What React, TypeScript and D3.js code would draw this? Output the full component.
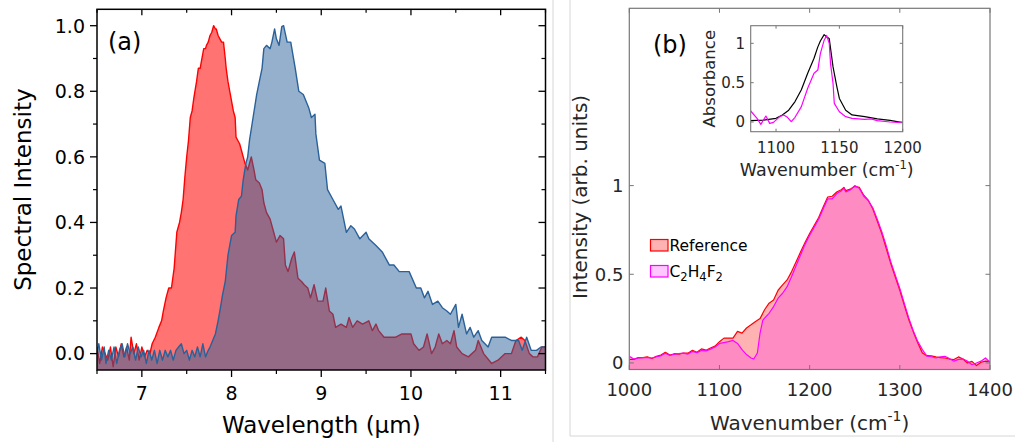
import React from 'react';
import * as d3 from 'd3';

type Pt = [number, number];

// ---------- Panel (a): spectra vs wavelength (µm) ----------
const redSpectrum: Pt[] = [
  [6.50,0.02],[6.53,-0.03],[6.56,0.02],[6.59,0.00],[6.62,-0.02],[6.65,0.02],[6.68,-0.04],[6.71,0.02],[6.74,-0.01],[6.77,0.03],
  [6.80,-0.01],[6.83,0.02],[6.86,-0.02],[6.88,0.05],[6.91,0.00],[6.94,0.03],[6.97,-0.02],[7.00,0.02],[7.03,-0.01],[7.06,0.01],
  [7.09,0.00],[7.115,0.03],[7.15,0.05],[7.19,0.08],[7.22,0.10],[7.24,0.13],[7.27,0.17],[7.30,0.20],[7.33,0.20],[7.36,0.26],
  [7.39,0.37],[7.42,0.40],[7.44,0.43],[7.46,0.47],[7.48,0.54],[7.50,0.60],[7.52,0.65],[7.54,0.72],[7.56,0.74],[7.58,0.78],
  [7.61,0.83],[7.63,0.87],[7.65,0.87],[7.67,0.90],[7.69,0.93],[7.71,0.93],[7.72,0.94],[7.74,0.95],[7.76,0.97],[7.78,0.98],
  [7.80,1.00],[7.82,0.99],[7.83,0.99],[7.85,0.97],[7.87,0.96],[7.89,0.95],[7.91,0.95],[7.93,0.90],[7.94,0.87],[7.96,0.83],
  [7.98,0.80],[8.00,0.77],[8.02,0.74],[8.04,0.72],[8.05,0.66],[8.07,0.65],[8.09,0.64],[8.11,0.62],[8.13,0.60],[8.15,0.58],
  [8.18,0.56],[8.20,0.58],[8.22,0.60],[8.25,0.56],[8.27,0.53],[8.31,0.52],[8.34,0.50],[8.36,0.46],[8.39,0.43],[8.43,0.41],
  [8.47,0.37],[8.50,0.34],[8.54,0.36],[8.58,0.35],[8.60,0.27],[8.63,0.25],[8.67,0.29],[8.70,0.31],[8.74,0.23],[8.78,0.22],
  [8.81,0.21],[8.85,0.20],[8.88,0.17],[8.92,0.21],[8.96,0.16],[9.02,0.16],[9.05,0.20],[9.09,0.13],[9.13,0.12],[9.16,0.08],
  [9.22,0.09],[9.28,0.08],[9.31,0.11],[9.35,0.08],[9.40,0.10],[9.46,0.09],[9.53,0.10],[9.57,0.07],[9.61,0.09],[9.64,0.07],
  [9.70,0.05],[9.76,0.05],[9.83,0.05],[9.90,0.06],[10.00,0.06],[10.03,0.03],[10.09,0.01],[10.14,0.02],[10.18,0.06],[10.23,0.00],
  [10.27,0.02],[10.31,0.06],[10.35,0.03],[10.40,0.04],[10.44,0.03],[10.48,0.07],[10.51,0.02],[10.57,0.00],[10.64,-0.01],[10.72,0.01],
  [10.75,0.04],[10.81,0.00],[10.90,-0.03],[10.97,-0.02],[11.05,0.00],[11.12,0.00],[11.17,0.04],[11.23,0.05],[11.27,0.04],[11.32,0.00],
  [11.36,-0.01],[11.41,-0.01],[11.46,0.02],[11.50,0.02]
];

const blueSpectrum: Pt[] = [
  [6.50,0.00],[6.52,0.03],[6.55,-0.02],[6.58,0.02],[6.60,-0.03],[6.63,0.01],[6.66,-0.02],[6.69,0.02],[6.72,-0.03],[6.75,0.01],
  [6.78,0.03],[6.81,-0.01],[6.84,0.03],[6.87,0.00],[6.90,0.02],[6.93,-0.02],[6.96,0.02],[6.99,-0.01],[7.02,0.01],[7.05,-0.03],
  [7.08,0.01],[7.11,-0.02],[7.14,0.01],[7.17,-0.03],[7.20,0.01],[7.23,-0.02],[7.26,0.01],[7.29,-0.01],[7.32,0.01],[7.35,-0.02],
  [7.38,0.01],[7.41,0.02],[7.44,0.03],[7.47,0.00],[7.50,0.01],[7.53,-0.02],[7.56,0.01],[7.59,-0.01],[7.62,0.02],[7.65,-0.01],
  [7.68,0.03],[7.71,-0.01],[7.74,0.01],[7.76,0.02],[7.79,0.04],[7.82,0.06],[7.85,0.10],[7.87,0.13],[7.90,0.18],[7.93,0.22],
  [7.96,0.30],[8.00,0.36],[8.04,0.37],[8.05,0.42],[8.08,0.47],[8.11,0.48],[8.13,0.53],[8.16,0.58],[8.18,0.60],[8.20,0.65],
  [8.24,0.72],[8.28,0.79],[8.31,0.83],[8.34,0.87],[8.36,0.93],[8.39,0.94],[8.43,0.93],[8.45,0.95],[8.48,0.99],[8.50,0.96],
  [8.53,0.94],[8.56,0.997],[8.58,1.00],[8.62,0.95],[8.66,0.95],[8.71,0.87],[8.75,0.80],[8.80,0.79],[8.86,0.75],[8.89,0.72],
  [8.93,0.73],[8.94,0.67],[8.98,0.59],[9.04,0.58],[9.07,0.50],[9.13,0.47],[9.19,0.44],[9.22,0.45],[9.28,0.37],[9.33,0.39],
  [9.37,0.38],[9.43,0.35],[9.50,0.37],[9.53,0.35],[9.61,0.33],[9.68,0.31],[9.76,0.27],[9.81,0.27],[9.87,0.25],[9.98,0.25],
  [10.06,0.20],[10.11,0.20],[10.15,0.17],[10.19,0.19],[10.24,0.15],[10.30,0.16],[10.35,0.14],[10.40,0.13],[10.44,0.12],[10.50,0.15],
  [10.53,0.08],[10.57,0.12],[10.62,0.06],[10.66,0.08],[10.70,0.05],[10.75,0.07],[10.79,0.04],[10.86,0.02],[10.90,0.05],[11.05,0.05],
  [11.12,0.04],[11.20,0.04],[11.24,0.01],[11.29,0.05],[11.34,0.01],[11.40,0.01],[11.45,0.02],[11.50,0.02]
];

const aXTicks = [7, 8, 9, 10, 11];
const aXMinor = [7.5, 8.5, 9.5, 10.5, 11.5, 6.5];
const aYTicks = [0, 0.2, 0.4, 0.6, 0.8, 1.0];
const aYMinor = [0.1, 0.3, 0.5, 0.7, 0.9];

// ---------- Panel (b): transmitted spectra vs wavenumber ----------
const referenceSpectrum: Pt[] = [
  [1000,0.02],[1005,0.02],[1010,0.03],[1015,0.03],[1020,0.035],[1025,0.025],[1030,0.037],[1035,0.045],[1040,0.06],[1045,0.045],
  [1050,0.052],[1055,0.05],[1060,0.056],[1065,0.055],[1070,0.071],[1075,0.06],[1080,0.079],[1085,0.072],[1090,0.084],[1095,0.095],
  [1100,0.12],[1105,0.14],[1110,0.14],[1115,0.14],[1120,0.178],[1125,0.168],[1130,0.197],[1135,0.215],[1140,0.234],[1145,0.25],
  [1150,0.3],[1155,0.337],[1160,0.355],[1165,0.41],[1170,0.44],[1175,0.468],[1180,0.515],[1185,0.57],[1190,0.627],[1195,0.68],
  [1200,0.73],[1205,0.775],[1210,0.82],[1215,0.88],[1220,0.936],[1225,0.94],[1230,0.964],[1235,0.977],[1238,0.99],[1240,0.972],
  [1245,0.98],[1250,0.996],[1255,0.99],[1260,0.946],[1265,0.918],[1270,0.87],[1275,0.8],[1280,0.73],[1285,0.645],[1290,0.56],
  [1295,0.485],[1300,0.41],[1305,0.325],[1310,0.243],[1315,0.175],[1320,0.112],[1325,0.056],[1330,0.041],[1335,0.04],[1340,0.034],
  [1345,0.03],[1350,0.028],[1355,0.022],[1360,0.019],[1365,0.034],[1370,0.022],[1375,0.0],[1380,0.009],[1385,-0.015],[1390,0.004],
  [1395,0.01],[1400,0.009]
];

const c2h4f2Spectrum: Pt[] = [
  [1000,0.037],[1005,0.022],[1010,0.028],[1015,0.03],[1020,0.03],[1025,0.028],[1030,0.035],[1035,0.04],[1040,0.055],[1045,0.042],
  [1050,0.05],[1055,0.052],[1060,0.055],[1065,0.05],[1070,0.065],[1075,0.058],[1080,0.07],[1085,0.068],[1090,0.078],[1095,0.09],
  [1100,0.11],[1105,0.115],[1110,0.12],[1115,0.127],[1120,0.11],[1125,0.075],[1130,0.047],[1135,0.028],[1138,0.022],[1142,0.056],
  [1145,0.168],[1148,0.24],[1150,0.253],[1155,0.28],[1160,0.318],[1165,0.365],[1170,0.393],[1175,0.43],[1180,0.487],[1185,0.55],
  [1190,0.61],[1195,0.67],[1200,0.72],[1205,0.765],[1210,0.81],[1215,0.87],[1220,0.925],[1225,0.925],[1230,0.955],[1235,0.97],
  [1238,0.985],[1240,0.965],[1245,0.975],[1250,1.0],[1255,0.985],[1260,0.94],[1265,0.915],[1270,0.875],[1275,0.81],[1280,0.74],
  [1285,0.66],[1290,0.57],[1295,0.495],[1300,0.42],[1305,0.335],[1310,0.253],[1315,0.18],[1320,0.12],[1325,0.075],[1330,0.038],
  [1335,0.035],[1340,0.028],[1345,0.035],[1350,0.037],[1355,0.025],[1360,0.01],[1365,0.02],[1370,0.022],[1375,0.01],[1380,-0.01],
  [1385,0.0],[1390,0.01],[1395,0.028],[1400,0.004]
];

const bXTicks = [1000, 1100, 1200, 1300, 1400];
const bYTicks = [0, 0.5, 1];

// ---------- Inset: absorbance ----------
const absorbanceBlack: Pt[] = [
  [1080,0.017],[1090,0.025],[1100,0.047],[1105,0.09],[1110,0.15],[1115,0.26],[1120,0.41],[1125,0.62],[1130,0.81],[1133,0.955],
  [1135,1.03],[1138,1.11],[1140,1.08],[1142,1.06],[1145,0.7],[1148,0.45],[1150,0.3],[1155,0.15],[1160,0.09],[1170,0.068],
  [1180,0.04],[1190,0.02],[1200,-0.008]
];
const absorbanceMagenta: Pt[] = [
  [1080,0.14],[1085,0.047],[1088,-0.03],[1092,0.076],[1095,-0.017],[1098,-0.005],[1103,0.068],[1106,0.09],[1109,0.06],[1112,0.004],
  [1115,0.06],[1120,0.195],[1125,0.43],[1130,0.62],[1133,0.66],[1135,0.87],[1138,1.04],[1140,1.1],[1142,1.0],[1143,0.746],
  [1145,0.49],[1146,0.237],[1150,0.13],[1155,0.068],[1160,0.047],[1170,0.034],[1175,0.04],[1180,0.017],[1190,0.0],[1200,-0.008]
];
const insetXTicks = [1100, 1150, 1200];
const insetYTicks = [0, 0.5, 1];

const legendLabels = ['Reference', 'C2H4F2'];

const FONT = "'DejaVu Sans', Verdana, sans-serif";

export default function App() {
  // Panel (a) scales
  const ax = d3.scaleLinear().domain([6.5, 11.5]).range([97, 545.5]);
  const ay = d3.scaleLinear().domain([-0.05, 1.05]).range([370, 9.3]);
  const aLine = d3.line<Pt>().x(d => ax(d[0])).y(d => ay(d[1]));
  const aArea = d3.area<Pt>().x(d => ax(d[0])).y0(ay(-0.05)).y1(d => ay(d[1]));
  const [aL, aR] = ax.range();
  const [aB, aT] = ay.range();

  // Panel (b) scales
  const bx = d3.scaleLinear().domain([1000, 1400]).range([629.3, 990]);
  const by = d3.scaleLinear().domain([-0.037, 2]).range([369.5, 8.3]);
  const bLine = d3.line<Pt>().x(d => bx(d[0])).y(d => by(d[1]));
  const bArea = d3.area<Pt>().x(d => bx(d[0])).y0(by(-0.037)).y1(d => by(d[1]));
  const [bL, bR] = bx.range();
  const [bB, bT] = by.range();

  // Inset scales
  const ix = d3.scaleLinear().domain([1080, 1200]).range([750.7, 902.7]);
  const iy = d3.scaleLinear().domain([-0.123, 1.224]).range([131.7, 25.7]);
  const iLine = d3.line<Pt>().x(d => ix(d[0])).y(d => iy(d[1]));
  const [iL, iR] = ix.range();
  const [iB, iT] = iy.range();

  const fmt1 = d3.format('.1f');
  const axisGray = '#777';
  const textGray = '#262626';

  return (
    <svg width={1015} height={442} style={{ position: 'absolute', left: 0, top: 0, display: 'block', background: '#fff' }}
      fontFamily={FONT}>
      <defs>
        <clipPath id="clipA"><rect x={aL} y={aT} width={aR - aL} height={aB - aT} /></clipPath>
        <clipPath id="clipB"><rect x={bL} y={bT} width={bR - bL} height={bB - bT} /></clipPath>
        <clipPath id="clipI"><rect x={iL} y={iT} width={iR - iL} height={iB - iT} /></clipPath>
      </defs>
      <rect x={0} y={0} width={1015} height={442} fill="#fff" />

      {/* light separators */}
      <line x1={553} y1={0} x2={553} y2={442} stroke="#d6d6d6" strokeWidth={1} />
      <line x1={570} y1={0} x2={570} y2={436} stroke="#d6d6d6" strokeWidth={1} />
      <line x1={570} y1={436} x2={1015} y2={436} stroke="#d6d6d6" strokeWidth={1} />

      {/* ===== Panel (a) ===== */}
      <g clipPath="url(#clipA)">
        <path d={aArea(redSpectrum) || ''} fill="rgba(255,0,0,0.55)" />
        <path d={aLine(redSpectrum) || ''} fill="none" stroke="#ff0000" strokeWidth={1.4} strokeLinejoin="round" />
        <path d={aArea(blueSpectrum) || ''} fill="rgba(42,97,153,0.5)" />
        <path d={aLine(blueSpectrum) || ''} fill="none" stroke="#2a6199" strokeWidth={1.4} strokeLinejoin="round" />
      </g>
      <rect x={aL} y={aT} width={aR - aL} height={aB - aT} fill="none" stroke="#000" strokeWidth={1.5} />
      {aXTicks.map(t => (
        <g key={'axt' + t}>
          <line x1={ax(t)} x2={ax(t)} y1={aB} y2={aB + 7} stroke="#000" strokeWidth={1.3} />
          <line x1={ax(t)} x2={ax(t)} y1={aT} y2={aT + 6} stroke="#000" strokeWidth={1.3} />
          <text x={ax(t)} y={400} fontSize={19} textAnchor="middle" fill="#000">{t}</text>
        </g>
      ))}
      {aXMinor.map(t => (
        <g key={'axm' + t}>
          <line x1={ax(t)} x2={ax(t)} y1={aB} y2={aB + 4} stroke="#000" strokeWidth={1.2} />
          <line x1={ax(t)} x2={ax(t)} y1={aT} y2={aT + 3.5} stroke="#000" strokeWidth={1.2} />
        </g>
      ))}
      {aYTicks.map(t => (
        <g key={'ayt' + t}>
          <line x1={aL - 7} x2={aL} y1={ay(t)} y2={ay(t)} stroke="#000" strokeWidth={1.3} />
          <line x1={aR - 7} x2={aR} y1={ay(t)} y2={ay(t)} stroke="#000" strokeWidth={1.3} />
          <text x={85} y={ay(t)} dy="0.36em" fontSize={19} textAnchor="end" fill="#000">{fmt1(t)}</text>
        </g>
      ))}
      {aYMinor.map(t => (
        <g key={'aym' + t}>
          <line x1={aL - 4} x2={aL} y1={ay(t)} y2={ay(t)} stroke="#000" strokeWidth={1.2} />
          <line x1={aR - 4} x2={aR} y1={ay(t)} y2={ay(t)} stroke="#000" strokeWidth={1.2} />
        </g>
      ))}
      <text x={108} y={50} fontSize={24} fill="#000">(a)</text>
      <text x={(aL + aR) / 2} y={433} fontSize={23} textAnchor="middle" fill="#000">Wavelength (μm)</text>
      <text transform={`translate(31,${(aT + aB) / 2}) rotate(-90)`} fontSize={23} textAnchor="middle" fill="#000">Spectral Intensity</text>

      {/* ===== Panel (b) ===== */}
      <g clipPath="url(#clipB)">
        <path d={bArea(referenceSpectrum) || ''} fill="rgba(255,0,0,0.3)" />
        <path d={bArea(c2h4f2Spectrum) || ''} fill="rgba(255,0,255,0.22)" />
        <path d={bLine(referenceSpectrum) || ''} fill="none" stroke="#ff0000" strokeWidth={1.2} strokeLinejoin="round" />
        <path d={bLine(c2h4f2Spectrum) || ''} fill="none" stroke="#ff00ff" strokeWidth={1.2} strokeLinejoin="round" />
      </g>
      <rect x={bL} y={bT} width={bR - bL} height={bB - bT} fill="none" stroke={axisGray} strokeWidth={1.2} />
      {bXTicks.map(t => (
        <g key={'bxt' + t}>
          <line x1={bx(t)} x2={bx(t)} y1={bB} y2={bB - 4.5} stroke={axisGray} strokeWidth={1} />
          <line x1={bx(t)} x2={bx(t)} y1={bT} y2={bT + 4.5} stroke={axisGray} strokeWidth={1} />
          <text x={bx(t)} y={396} fontSize={18} textAnchor="middle" fill={textGray}>{t}</text>
        </g>
      ))}
      {bYTicks.map(t => (
        <g key={'byt' + t}>
          <line x1={bL} x2={bL + 4.5} y1={by(t)} y2={by(t)} stroke={axisGray} strokeWidth={1} />
          <line x1={bR} x2={bR - 4.5} y1={by(t)} y2={by(t)} stroke={axisGray} strokeWidth={1} />
          <text x={623.5} y={by(t)} dy="0.36em" fontSize={18} textAnchor="end" fill={textGray}>{t}</text>
        </g>
      ))}
      <text x={653} y={53} fontSize={24} fill="#000">(b)</text>
      <text x={(bL + bR) / 2} y={430} fontSize={20} textAnchor="middle" fill={textGray}>
        Wavenumber (cm<tspan fontSize={14} dy={-9}>-1</tspan><tspan dy={9}>)</tspan>
      </text>
      <text transform={`translate(587,${(bT + bB) / 2 + 8}) rotate(-90)`} fontSize={20} textAnchor="middle" fill={textGray}>Intensity (arb. units)</text>

      {/* legend */}
      <rect x={650.5} y={239.5} width={17.5} height={11.5} fill="rgba(255,0,0,0.3)" stroke="#ff0000" strokeWidth={1.2} />
      <text x={669.5} y={251} fontSize={15.5} fill="#000">{legendLabels[0]}</text>
      <rect x={650.5} y={265.5} width={17.5} height={11.5} fill="rgba(255,0,255,0.22)" stroke="#ff00ff" strokeWidth={1.2} />
      <text x={669.5} y={277} fontSize={15.5} fill="#000">
        C<tspan fontSize={11.5} dy={4}>2</tspan><tspan dy={-4}>H</tspan><tspan fontSize={11.5} dy={4}>4</tspan><tspan dy={-4}>F</tspan><tspan fontSize={11.5} dy={4}>2</tspan>
      </text>

      {/* ===== Inset ===== */}
      <rect x={iL} y={iT} width={iR - iL} height={iB - iT} fill="#fff" />
      <g clipPath="url(#clipI)">
        <path d={iLine(absorbanceBlack) || ''} fill="none" stroke="#000" strokeWidth={1.2} strokeLinejoin="round" />
        <path d={iLine(absorbanceMagenta) || ''} fill="none" stroke="#ff00ff" strokeWidth={1.2} strokeLinejoin="round" />
      </g>
      <rect x={iL} y={iT} width={iR - iL} height={iB - iT} fill="none" stroke={axisGray} strokeWidth={1.1} />
      {insetXTicks.map(t => (
        <g key={'ixt' + t}>
          <line x1={ix(t)} x2={ix(t)} y1={iB} y2={iB - 3} stroke={axisGray} strokeWidth={1} />
          <line x1={ix(t)} x2={ix(t)} y1={iT} y2={iT + 3} stroke={axisGray} strokeWidth={1} />
          <text x={ix(t)} y={153} fontSize={15} textAnchor="middle" fill={textGray}>{t}</text>
        </g>
      ))}
      {insetYTicks.map(t => (
        <g key={'iyt' + t}>
          <line x1={iL} x2={iL + 3} y1={iy(t)} y2={iy(t)} stroke={axisGray} strokeWidth={1} />
          <line x1={iR} x2={iR - 3} y1={iy(t)} y2={iy(t)} stroke={axisGray} strokeWidth={1} />
          <text x={745} y={iy(t)} dy="0.36em" fontSize={15} textAnchor="end" fill={textGray}>{t}</text>
        </g>
      ))}
      <text x={(iL + iR) / 2} y={176} fontSize={17.5} textAnchor="middle" fill={textGray}>
        Wavenumber (cm<tspan fontSize={11.5} dy={-7}>-1</tspan><tspan dy={7}>)</tspan>
      </text>
      <text transform={`translate(715,${(iT + iB) / 2}) rotate(-90)`} fontSize={16.5} textAnchor="middle" fill={textGray}>Absorbance</text>
    </svg>
  );
}
